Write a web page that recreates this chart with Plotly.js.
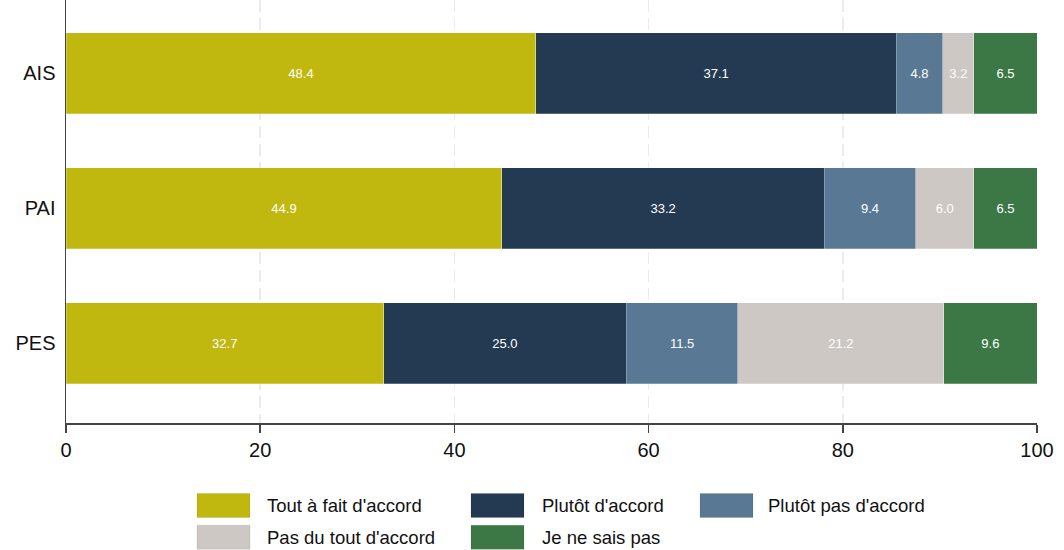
<!DOCTYPE html>
<html>
<head>
<meta charset="utf-8">
<script src="https://cdn.plot.ly/plotly-3.0.1.min.js"></script>
<style>html,body{margin:0;padding:0;background:#fff;}#chart{width:1064px;height:550px;}</style>
</head>
<body>
<div id="chart"></div>
<script>
const categories = ["PES", "PAI", "AIS"];
const seriesNames = ["Tout à fait d'accord", "Plutôt d'accord", "Plutôt pas d'accord", "Pas du tout d'accord", "Je ne sais pas"];
const toutAFait = [32.7, 44.9, 48.4];
const plutotDAccord = [25.0, 33.2, 37.1];
const plutotPas = [11.5, 9.4, 4.8];
const pasDuTout = [21.2, 6.0, 3.2];
const neSaisPas = [9.6, 6.5, 6.5];
const colors = ["#c1b80f", "#243a52", "#587893", "#cdc8c4", "#3c7845"];
const xTicks = [0, 20, 40, 60, 80, 100];

const values = [toutAFait, plutotDAccord, plutotPas, pasDuTout, neSaisPas];
const traces = values.map((v, i) => ({
  type: 'bar',
  orientation: 'h',
  y: categories,
  x: v,
  name: seriesNames[i],
  marker: {color: colors[i], line: {color: 'rgba(255,255,255,0.5)', width: 0.5}},
  width: 0.6,
  text: v.map(d => d.toFixed(1)),
  texttemplate: '%{text}',
  textposition: 'inside',
  insidetextanchor: 'middle',
  textangle: 0,
  constraintext: 'none',
  textfont: {family: 'Liberation Sans, Arial, sans-serif', size: 13, color: '#ffffff'},
  hoverinfo: 'x+name',
  showlegend: false
}));

// Legend drawn from the series names/colours
const shapes = [];
const annotations = [];
seriesNames.forEach((name, i) => {
  const col = i % 3, row = Math.floor(i / 3);
  const yC = row === 0 ? -0.195 : -0.27;
  const x0 = (197 + [0, 274, 503][col] - 66) / 971;
  const tx = [265, 540, 766][col];
  shapes.push({type: 'rect', xref: 'paper', yref: 'paper',
    x0: x0, x1: x0 + 53 / 971, y0: yC - 12 / 423, y1: yC + 12 / 423,
    fillcolor: colors[i], line: {color: 'rgba(0,0,0,0.08)', width: 1}});
  annotations.push({xref: 'paper', yref: 'paper', x: (tx - 66) / 971, y: yC,
    xanchor: 'left', yanchor: 'middle', showarrow: false, text: name,
    font: {family: 'Liberation Sans, Arial, sans-serif', size: 18.5, color: '#111'}});
});

const layout = {
  width: 1064, height: 550,
  margin: {l: 66, r: 27, t: 0, b: 127},
  barmode: 'stack',
  bargap: 0.4,
  plot_bgcolor: '#fff', paper_bgcolor: '#fff',
  font: {family: 'Liberation Sans, Arial, sans-serif', color: '#111'},
  xaxis: {
    range: [0, 100], tickvals: xTicks, ticktext: xTicks.map(String),
    showgrid: true, gridcolor: '#ebebeb', griddash: '12px,6px', gridwidth: 1.5,
    zeroline: false, showline: true, linecolor: '#444', linewidth: 1.5,
    ticks: 'outside', ticklen: 8, tickcolor: '#444', tickwidth: 1.5,
    tickfont: {size: 20, color: '#111'}, fixedrange: true
  },
  yaxis: {
    range: [-0.589, 2.544], showgrid: false, zeroline: false,
    showline: true, linecolor: '#444', linewidth: 1.5, ticks: '',
    ticklabelstandoff: 5,
    tickfont: {size: 20, color: '#111'}, fixedrange: true
  },
  shapes: shapes,
  annotations: annotations,
  showlegend: false
};

Plotly.newPlot('chart', traces, layout, {displayModeBar: false, staticPlot: true});
</script>
</body>
</html>
